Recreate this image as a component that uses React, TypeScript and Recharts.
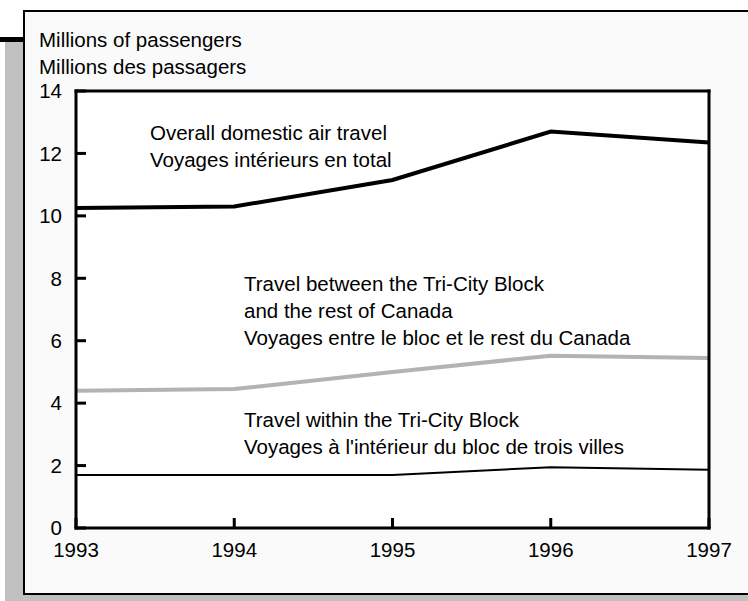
import React from "react";
import { LineChart, Line, XAxis, YAxis, CartesianGrid } from "recharts";

// values (millions of passengers)
const years = [1993, 1994, 1995, 1996, 1997];
const overallTravel = [10.25, 10.3, 11.15, 12.7, 12.35];
const betweenTravel = [4.4, 4.45, 5.0, 5.52, 5.45];
const withinTravel = [1.7, 1.7, 1.7, 1.95, 1.87];
const yTicks = [0, 2, 4, 6, 8, 10, 12, 14];

const data = years.map((year, i) => ({
    year,
    overall: overallTravel[i],
    between: betweenTravel[i],
    within: withinTravel[i],
}));

const FONT = '"Liberation Sans", Arial, Helvetica, sans-serif';
const FONT_SIZE = 20.5;
const textStyle = { fontFamily: FONT, fontSize: FONT_SIZE, fill: "#000" };
const frameLine = { stroke: "#000", strokeWidth: 3, strokeLinecap: "square" as const };

export default function App() {
    return (
        <div style={{ position: "absolute", left: 0, top: 0, width: 748, height: 601, background: "#fff" }}>
            {/* card, shadow and the little black bar */}
            <svg width={748} height={601} style={{ position: "absolute", left: 0, top: 0 }}>
                <rect x={5} y={42} width={19} height={559} fill="#c0c0c0" />
                <rect x={5} y={595} width={743} height={6} fill="#c0c0c0" />
                <rect x={0} y={37} width={25} height={5} fill="#000" />
                <rect x={24} y={11} width={740} height={583} fill="#fafafa" stroke="#000" strokeWidth={2} />
            </svg>

            <div style={{ position: "absolute", left: 0, top: 0 }}>
                <LineChart
                    width={748}
                    height={601}
                    data={data}
                    margin={{ top: 90, right: 38, left: 0, bottom: 33 }}
                >
                    <CartesianGrid horizontal={false} vertical={false} fill="#fff" />
                    <XAxis
                        dataKey="year"
                        type="number"
                        domain={[1993, 1997]}
                        ticks={years}
                        height={40}
                        axisLine={frameLine}
                        tickLine={{ stroke: "#000", strokeWidth: 3 }}
                        tickSize={-10}
                        tickMargin={24}
                        tick={textStyle}
                        interval={0}
                    />
                    <XAxis xAxisId="top" orientation="top" dataKey="year" type="number" domain={[1993, 1997]}
                        ticks={years} height={1} tick={false} tickLine={false} axisLine={frameLine} />
                    <YAxis
                        type="number"
                        domain={[0, 14]}
                        ticks={yTicks}
                        width={76}
                        axisLine={frameLine}
                        tickLine={{ stroke: "#000", strokeWidth: 3 }}
                        tickSize={-10}
                        tickMargin={24}
                        tick={textStyle}
                        interval={0}
                    />
                    <YAxis yAxisId="right" orientation="right" type="number" domain={[0, 14]} ticks={yTicks}
                        width={1} tick={false} tickLine={false} axisLine={frameLine} />

                    <Line type="linear" dataKey="overall" stroke="#000" strokeWidth={4}
                        dot={false} activeDot={false} isAnimationActive={false} />
                    <Line type="linear" dataKey="between" stroke="#b3b3b3" strokeWidth={4}
                        dot={false} activeDot={false} isAnimationActive={false} />
                    <Line type="linear" dataKey="within" stroke="#000" strokeWidth={2}
                        dot={false} activeDot={false} isAnimationActive={false} />
                </LineChart>
            </div>

            {/* titles and line annotations */}
            <svg width={748} height={601} style={{ position: "absolute", left: 0, top: 0, pointerEvents: "none" }}>
                <g style={{ fontFamily: FONT, fontSize: FONT_SIZE }} fill="#000">
                    <text x={39} y={47}>Millions of passengers</text>
                    <text x={39} y={74}>Millions des passagers</text>

                    <text x={150} y={140}>Overall domestic air travel</text>
                    <text x={150} y={167}>Voyages intérieurs en total</text>

                    <text x={244} y={291}>Travel between the Tri-City Block</text>
                    <text x={244} y={318}>and the rest of Canada</text>
                    <text x={244} y={345}>Voyages entre le bloc et le rest du Canada</text>

                    <text x={244} y={427}>Travel within the Tri-City Block</text>
                    <text x={244} y={454}>Voyages à l'intérieur du bloc de trois villes</text>
                </g>
            </svg>
        </div>
    );
}
